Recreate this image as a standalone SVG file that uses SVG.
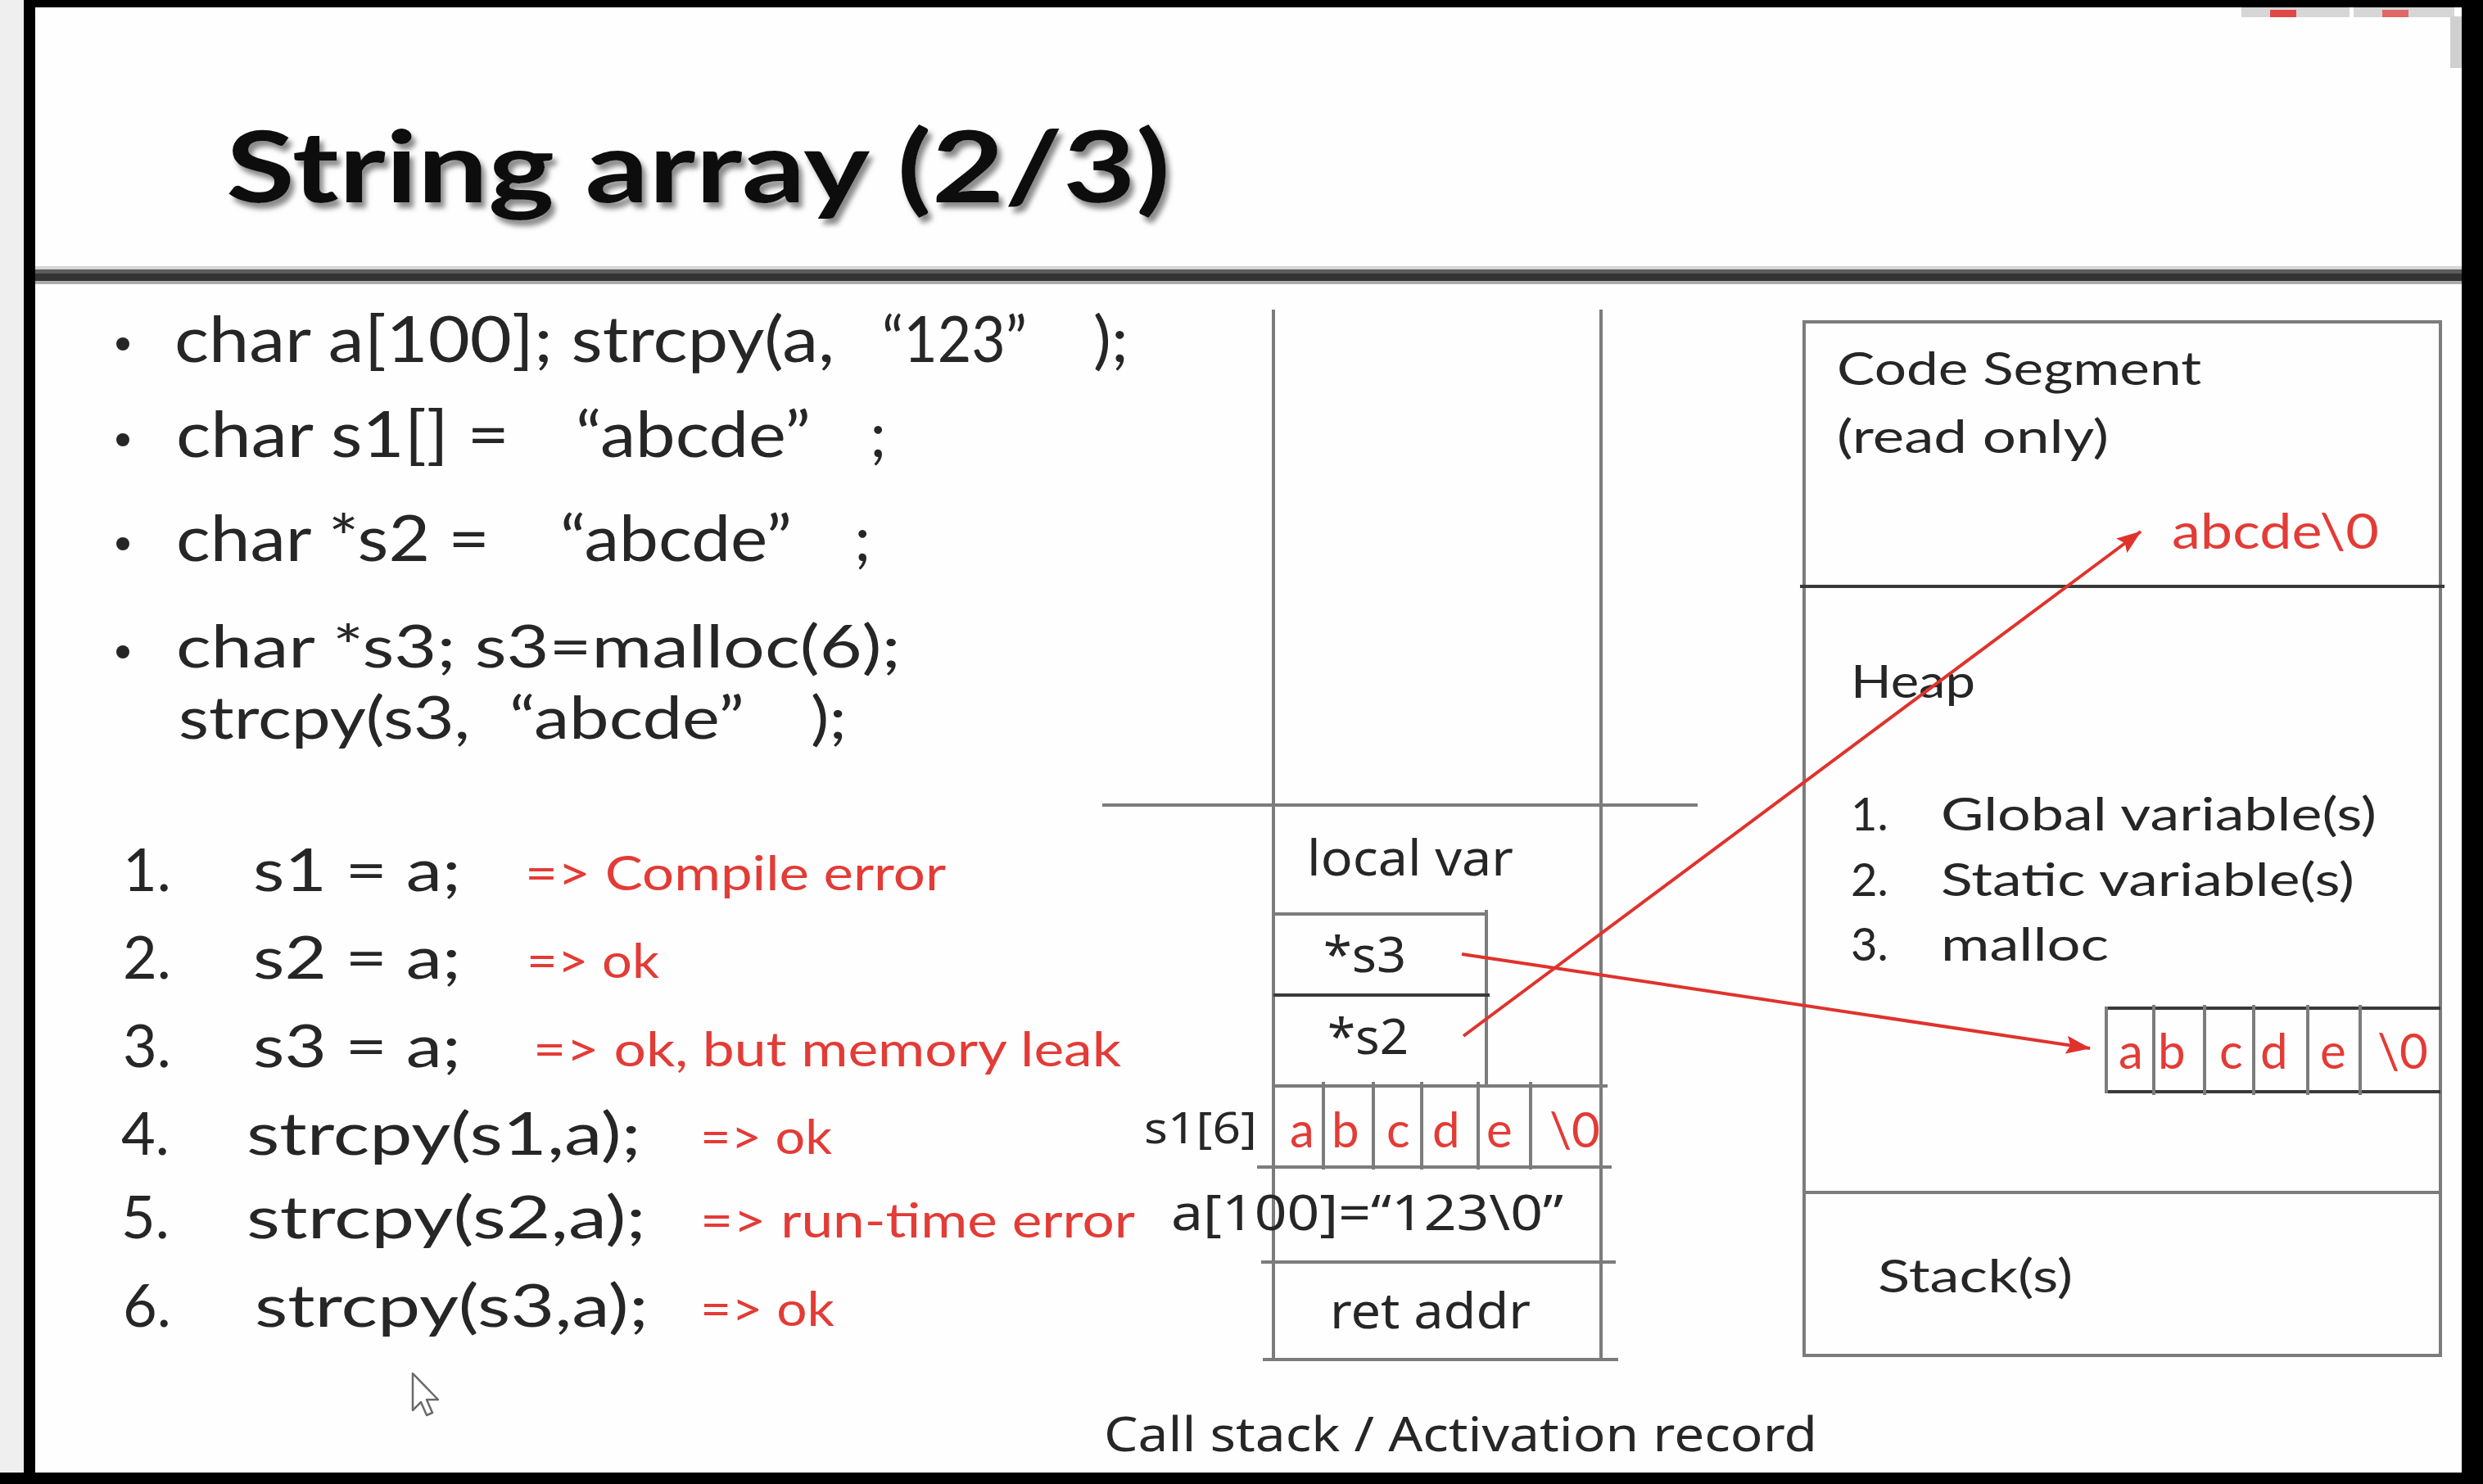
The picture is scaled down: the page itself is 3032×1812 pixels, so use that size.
<svg xmlns="http://www.w3.org/2000/svg" width="3032" height="1812" viewBox="0 0 3032 1812">
  <defs>
    <style>
      .t { font-family: Lato, 'Liberation Sans', sans-serif; fill: #262626; }
      .n { font-family: 'Noto Sans', 'DejaVu Sans', sans-serif; fill: #262626; }
      .red { fill: #e33b36; }
      .b { font-size: 78px; }
      .bw { font-size: 72px; }
      .num { font-size: 72px; }
      .note { font-size: 58px; }
      .lbl { font-size: 56px; }
      .cell { font-size: 60px; }
      .ln { stroke: #7c7c7c; stroke-width: 4; fill: none; }
      .dk { stroke: #3a3a3a; stroke-width: 4; fill: none; }
      .ptr { stroke: #e0322c; stroke-width: 4; fill: none; }
    </style>
    <marker id="head" viewBox="0 0 30 22" refX="29" refY="11" markerWidth="30" markerHeight="22" markerUnits="userSpaceOnUse" orient="auto">
      <path d="M0,0 L30,11 L0,22 L5,11 z" fill="#e0322c"/>
    </marker>
    <!-- soft grey drop shadow for the slide title -->
    <filter id="shadow" x="-5%" y="-20%" width="110%" height="150%">
      <feGaussianBlur in="SourceAlpha" stdDeviation="3" result="blur"/>
      <feOffset in="blur" dx="5" dy="7" result="off"/>
      <feFlood flood-color="#8a8a8a"/>
      <feComposite in2="off" operator="in" result="shade"/>
      <feMerge>
        <feMergeNode in="shade"/>
        <feMergeNode in="SourceGraphic"/>
      </feMerge>
    </filter>
  </defs>

  <!-- page and frame -->
  <rect x="0" y="0" width="3032" height="1812" fill="#fefefe"/>
  <rect x="0" y="0" width="29" height="1812" fill="#efefef"/>
  <rect x="29" y="0" width="3003" height="9" fill="#000"/>
  <rect x="29" y="0" width="14" height="1812" fill="#000"/>
  <rect x="3006" y="0" width="26" height="1812" fill="#000"/>
  <rect x="0" y="1798" width="3032" height="14" fill="#000"/>

  <!-- window controls in the corner -->
  <g id="corner-controls">
    <rect x="2737" y="9" width="132" height="12" fill="#d6d6d6"/>
    <rect x="2874" y="9" width="123" height="12" fill="#d6d6d6"/>
    <rect x="2772" y="12" width="32" height="9" fill="#e04848"/>
    <rect x="2909" y="12" width="32" height="9" fill="#e06868"/>
    <rect x="2992" y="20" width="14" height="63" fill="#d0d0d0"/>
  </g>

  <!-- title -->
  <g id="title">
    <text x="276" y="247" font-family="Lato, 'Liberation Sans', sans-serif" font-weight="bold" font-size="121" fill="#111" filter="url(#shadow)" textLength="1153" lengthAdjust="spacingAndGlyphs">String array (2/3)</text>
  </g>
  <g id="title-rule">
    <rect x="43" y="325" width="2963" height="4" fill="#d6d6d6"/>
    <rect x="43" y="329" width="2963" height="5" fill="#5c5c5c"/>
    <rect x="43" y="334" width="2963" height="9" fill="#333"/>
    <rect x="43" y="343" width="2963" height="4" fill="#ababab"/>
  </g>

  <!-- declarations -->
  <g id="declarations" class="t b">
    <circle cx="150" cy="420" r="8" fill="#262626"/>
    <text x="213" y="442" textLength="806" lengthAdjust="spacingAndGlyphs">char a[100]; strcpy(a,</text>
    <text x="1077" y="442" textLength="177" lengthAdjust="spacingAndGlyphs">“123”</text>
    <text x="1335" y="442" textLength="43" lengthAdjust="spacingAndGlyphs">);</text>

    <circle cx="150" cy="537" r="8" fill="#262626"/>
    <text x="215" y="558" textLength="407" lengthAdjust="spacingAndGlyphs">char s1[] =</text>
    <text x="703" y="558" textLength="287" lengthAdjust="spacingAndGlyphs">“abcde”</text>
    <text x="1062" y="558">;</text>

    <circle cx="150" cy="664" r="8" fill="#262626"/>
    <text x="215" y="685" textLength="383" lengthAdjust="spacingAndGlyphs">char *s2 =</text>
    <text x="684" y="685" textLength="283" lengthAdjust="spacingAndGlyphs">“abcde”</text>
    <text x="1043" y="685">;</text>

    <circle cx="150" cy="796" r="8" fill="#262626"/>
    <!-- wrapped bullet: two tightly spaced lines -->
    <text class="bw" x="215" y="815" textLength="885" lengthAdjust="spacingAndGlyphs">char *s3; s3=malloc(6);</text>
    <text class="bw" x="218" y="902" textLength="356" lengthAdjust="spacingAndGlyphs">strcpy(s3,</text>
    <text class="bw" x="622" y="902" textLength="287" lengthAdjust="spacingAndGlyphs">“abcde”</text>
    <text class="bw" x="990" y="902" textLength="44" lengthAdjust="spacingAndGlyphs">);</text>
  </g>

  <!-- statements and results -->
  <g id="statements">
    <g class="t num">
      <text x="150" y="1088">1.</text>
      <text x="309" y="1088" textLength="254" lengthAdjust="spacingAndGlyphs">s1 = a;</text>
      <text x="150" y="1195">2.</text>
      <text x="309" y="1195" textLength="254" lengthAdjust="spacingAndGlyphs">s2 = a;</text>
      <text x="150" y="1303">3.</text>
      <text x="309" y="1303" textLength="254" lengthAdjust="spacingAndGlyphs">s3 = a;</text>
      <text x="148" y="1410">4.</text>
      <text x="301" y="1410" textLength="482" lengthAdjust="spacingAndGlyphs">strcpy(s1,a);</text>
      <text x="148" y="1512">5.</text>
      <text x="301" y="1512" textLength="488" lengthAdjust="spacingAndGlyphs">strcpy(s2,a);</text>
      <text x="150" y="1620">6.</text>
      <text x="311" y="1620" textLength="481" lengthAdjust="spacingAndGlyphs">strcpy(s3,a);</text>
    </g>
    <g class="t note red">
      <text x="641" y="1087" textLength="514" lengthAdjust="spacingAndGlyphs">=&gt; Compile error</text>
      <text x="643" y="1194" textLength="162" lengthAdjust="spacingAndGlyphs">=&gt; ok</text>
      <text x="651" y="1302" textLength="718" lengthAdjust="spacingAndGlyphs">=&gt; ok, but memory leak</text>
      <text x="855" y="1409" textLength="161" lengthAdjust="spacingAndGlyphs">=&gt; ok</text>
      <text x="855" y="1511" textLength="531" lengthAdjust="spacingAndGlyphs">=&gt; run-time error</text>
      <text x="855" y="1619" textLength="164" lengthAdjust="spacingAndGlyphs">=&gt; ok</text>
    </g>
  </g>

  <!-- mouse pointer -->
  <path d="M504,1677 L504,1722 L514,1712 L521,1728 L528,1725 L521,1709 L535,1709 Z" fill="#fff" stroke="#6a6a6a" stroke-width="2.5" stroke-linejoin="round"/>

  <!-- call stack -->
  <g id="call-stack">
    <line class="ln" x1="1555" y1="378" x2="1555" y2="1660"/>
    <line class="ln" x1="1955" y1="378" x2="1955" y2="1660"/>
    <line class="ln" x1="1346" y1="983" x2="2073" y2="983" stroke="#6e6e6e"/>
    <text class="n" x="1596" y="1069" font-size="60" textLength="252" lengthAdjust="spacingAndGlyphs">local var</text>
  </g>

  <g id="slot-s3">
    <line class="ln" x1="1555" y1="1116" x2="1817" y2="1116"/>
    <line class="ln" x1="1815" y1="1111" x2="1815" y2="1326"/>
    <text class="n" x="1616" y="1187" font-size="60" textLength="101" lengthAdjust="spacingAndGlyphs">*s3</text>
  </g>

  <g id="slot-s2">
    <line class="dk" x1="1555" y1="1215" x2="1819" y2="1215" stroke="#555"/>
    <text class="n" x="1621" y="1287" font-size="60" textLength="99" lengthAdjust="spacingAndGlyphs">*s2</text>
  </g>

  <g id="slot-s1">
    <line class="ln" x1="1557" y1="1326" x2="1963" y2="1326"/>
    <line class="ln" x1="1535" y1="1425" x2="1968" y2="1425"/>
    <line class="ln" x1="1616" y1="1321" x2="1616" y2="1428"/>
    <line class="ln" x1="1677" y1="1321" x2="1677" y2="1428"/>
    <line class="ln" x1="1736" y1="1321" x2="1736" y2="1428"/>
    <line class="ln" x1="1805" y1="1321" x2="1805" y2="1428"/>
    <line class="ln" x1="1869" y1="1321" x2="1869" y2="1428"/>
    <text class="n" x="1397" y="1396" font-size="52" fill="#555" textLength="138" lengthAdjust="spacingAndGlyphs">s1[6]</text>
    <g class="t cell red">
      <text x="1575" y="1401">a</text>
      <text x="1626" y="1401">b</text>
      <text x="1693" y="1401">c</text>
      <text x="1749" y="1401">d</text>
      <text x="1815" y="1401">e</text>
      <text x="1892" y="1401">\0</text>
    </g>
  </g>

  <g id="slot-a">
    <line class="ln" x1="1540" y1="1541" x2="1973" y2="1541"/>
    <text class="n" x="1430" y="1502" font-size="60" textLength="479" lengthAdjust="spacingAndGlyphs">a[100]=“123\0”</text>
  </g>

  <g id="slot-ret">
    <line class="ln" x1="1542" y1="1660" x2="1976" y2="1660" stroke-width="6"/>
    <text class="n" x="1624" y="1622" font-size="60" textLength="245" lengthAdjust="spacingAndGlyphs">ret addr</text>
  </g>

  <text id="stack-caption" class="n" x="1348" y="1772" font-size="58" textLength="871" lengthAdjust="spacingAndGlyphs">Call stack / Activation record</text>

  <!-- process memory map -->
  <g id="memory-map">
    <rect class="ln" x="2203" y="393" width="777" height="1262"/>
  </g>

  <g id="code-segment">
    <text class="t lbl" x="2243" y="470" textLength="445" lengthAdjust="spacingAndGlyphs">Code Segment</text>
    <text class="t lbl" x="2243" y="553" textLength="332" lengthAdjust="spacingAndGlyphs">(read only)</text>
    <text class="t red" x="2652" y="670" font-size="60" textLength="253" lengthAdjust="spacingAndGlyphs">abcde\0</text>
    <line class="dk" x1="2198" y1="716" x2="2985" y2="716"/>
  </g>

  <g id="heap">
    <text class="t lbl" x="2260" y="852" textLength="152" lengthAdjust="spacingAndGlyphs">Heap</text>
    <text class="t lbl" x="2260" y="1014">1.</text>
    <text class="t lbl" x="2370" y="1014" textLength="532" lengthAdjust="spacingAndGlyphs">Global variable(s)</text>
    <text class="t lbl" x="2260" y="1094">2.</text>
    <text class="t lbl" x="2370" y="1094" textLength="505" lengthAdjust="spacingAndGlyphs">Static variable(s)</text>
    <text class="t lbl" x="2260" y="1173">3.</text>
    <text class="t lbl" x="2370" y="1173" textLength="205" lengthAdjust="spacingAndGlyphs">malloc</text>
  </g>

  <g id="heap-block">
    <line class="dk" x1="2572" y1="1231" x2="2980" y2="1231" stroke="#4a4a4a"/>
    <line class="dk" x1="2572" y1="1333" x2="2980" y2="1333" stroke="#4a4a4a"/>
    <line class="ln" x1="2572" y1="1229" x2="2572" y2="1335"/>
    <line class="ln" x1="2630" y1="1227" x2="2630" y2="1337" stroke="#606060"/>
    <line class="ln" x1="2692" y1="1227" x2="2692" y2="1337" stroke="#3a3a3a"/>
    <line class="ln" x1="2752" y1="1227" x2="2752" y2="1337" stroke="#606060"/>
    <line class="ln" x1="2818" y1="1227" x2="2818" y2="1337" stroke="#606060"/>
    <line class="ln" x1="2882" y1="1227" x2="2882" y2="1337" stroke="#606060"/>
    <g class="t cell red">
      <text x="2587" y="1305">a</text>
      <text x="2635" y="1305">b</text>
      <text x="2710" y="1305">c</text>
      <text x="2760" y="1305">d</text>
      <text x="2833" y="1305">e</text>
      <text x="2903" y="1305">\0</text>
    </g>
  </g>

  <g id="stack-region">
    <line class="ln" x1="2201" y1="1456" x2="2982" y2="1456"/>
    <text class="t lbl" x="2293" y="1578" textLength="238" lengthAdjust="spacingAndGlyphs">Stack(s)</text>
  </g>

  <!-- pointers -->
  <g id="connectors">
    <line class="ptr" x1="1785" y1="1165" x2="2552" y2="1280" marker-end="url(#head)"/>
    <line class="ptr" x1="1787" y1="1265" x2="2614" y2="649" marker-end="url(#head)"/>
  </g>
</svg>
